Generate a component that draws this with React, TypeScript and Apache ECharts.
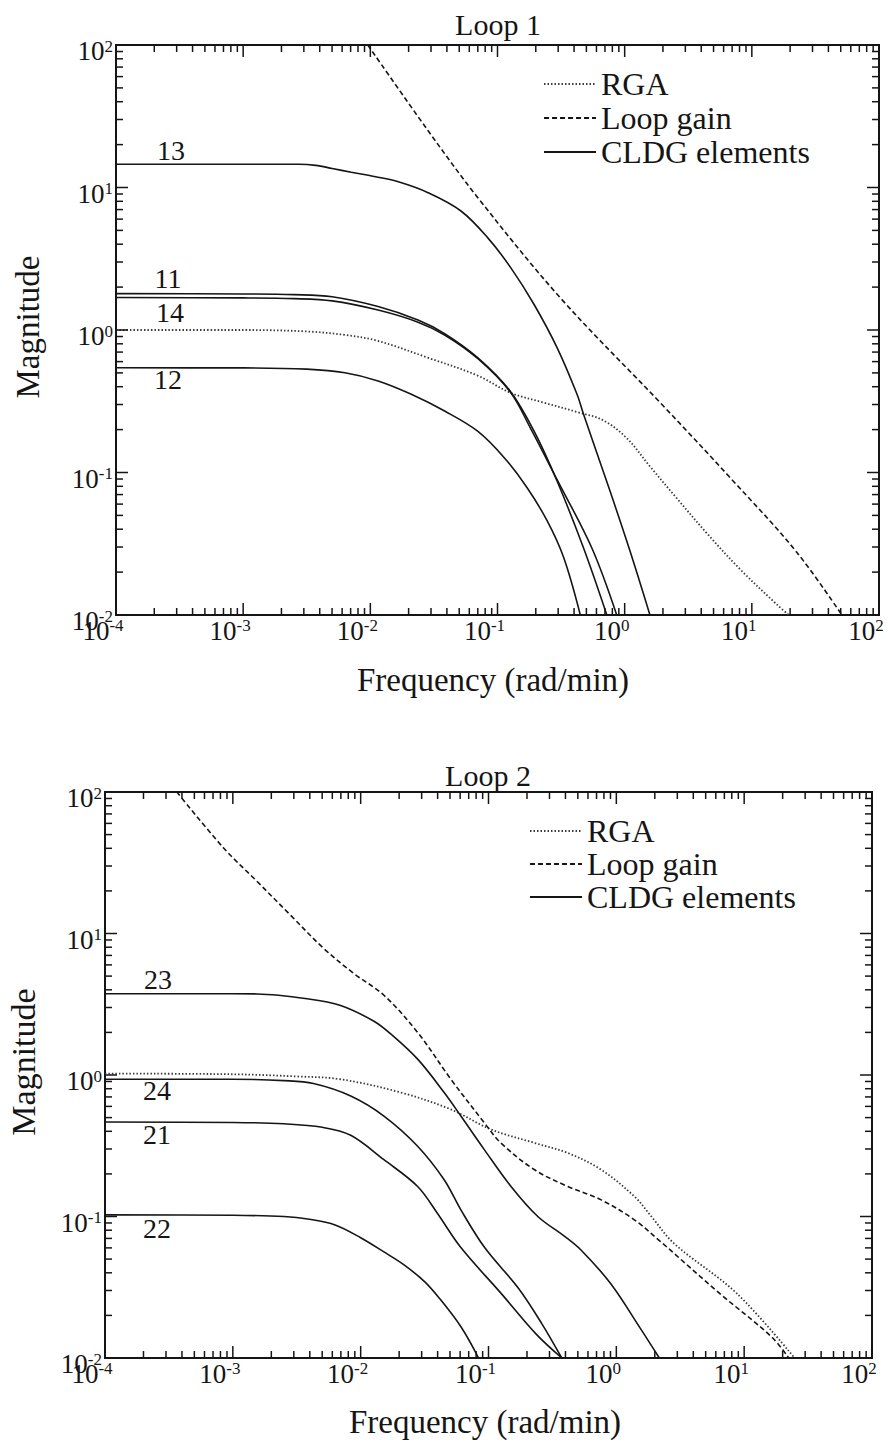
import React, { useEffect, useRef } from 'react';
import * as echarts from 'echarts';

type Pt = [number, number];

// ---------- tick labels / axis ranges ----------
const xDecades = [-4, -3, -2, -1, 0, 1, 2];
const yDecades = [-2, -1, 0, 1, 2];
const minorMultipliers = [2, 3, 4, 5, 6, 7, 8, 9];
const X_MIN = 1e-4;
const X_MAX = 1e2;
const Y_MIN = 1e-2;
const Y_MAX = 1e2;

const legendNames = ['RGA', 'Loop gain', 'CLDG elements'];

// ---------- Loop 1 data: [frequency rad/min, magnitude] ----------
const loop1RGA: Pt[] = [
  [1e-4, 1.0], [1e-3, 1.0], [3.16e-3, 0.977], [6.31e-3, 0.923], [0.0115, 0.838],
  [0.0282, 0.64], [0.0698, 0.479], [0.126, 0.363], [0.232, 0.309], [0.422, 0.266],
  [0.681, 0.232], [1.04, 0.174], [1.585, 0.11], [2.51, 0.0676], [4.57, 0.0363],
  [8.32, 0.0204], [15.5, 0.012], [19.5, 0.01],
];
const loop1LoopGain: Pt[] = [
  [0.00955, 100], [0.0284, 25.1], [0.0698, 8.51], [0.316, 1.66],
  [2.0, 0.295], [6.65, 0.0933], [22.1, 0.0282], [51.1, 0.01],
];
const loop1C13: Pt[] = [
  [1e-4, 14.55], [1e-3, 14.55], [2.74e-3, 14.55], [3.72e-3, 14.3], [5.01e-3, 13.6],
  [7.08e-3, 12.8], [0.011, 11.9], [0.0166, 10.96], [0.0284, 9.2], [0.0516, 6.84],
  [0.0836, 4.45], [0.127, 2.74], [0.194, 1.51], [0.294, 0.752], [0.422, 0.354],
  [0.475, 0.256], [0.767, 0.0741], [1.1, 0.0282], [1.58, 0.01],
];
const loop1C11: Pt[] = [
  [1e-4, 1.8], [1e-3, 1.79], [2.51e-3, 1.77], [5.01e-3, 1.71], [0.0115, 1.46],
  [0.0237, 1.175], [0.0384, 0.944], [0.0698, 0.64], [0.126, 0.372], [0.194, 0.195],
  [0.294, 0.0871], [0.475, 0.0295], [0.724, 0.01],
];
const loop1C14: Pt[] = [
  [1e-4, 1.69], [1e-3, 1.68], [2.51e-3, 1.66], [5.01e-3, 1.6], [0.0115, 1.38],
  [0.0237, 1.135], [0.0384, 0.923], [0.0698, 0.631], [0.126, 0.367], [0.182, 0.204],
  [0.294, 0.0891], [0.552, 0.0295], [0.866, 0.01],
];
const loop1C12: Pt[] = [
  [1e-4, 0.543], [1e-3, 0.542], [3.16e-3, 0.531], [6.31e-3, 0.501], [0.0115, 0.439],
  [0.021, 0.354], [0.0384, 0.27], [0.0698, 0.195], [0.113, 0.127], [0.171, 0.0782],
  [0.246, 0.0457], [0.332, 0.0252], [0.448, 0.01],
];

// ---------- Loop 2 data ----------
const loop2RGA: Pt[] = [
  [1e-4, 1.023], [1e-3, 1.012], [3.16e-3, 0.977], [6.97e-3, 0.933], [0.0206, 0.752],
  [0.0508, 0.571], [0.105, 0.412], [0.229, 0.331], [0.417, 0.281], [0.762, 0.214],
  [1.39, 0.138], [1.88, 0.1], [2.82, 0.0646], [8.79, 0.0285], [24.8, 0.01],
];
const loop2LoopGain: Pt[] = [
  [3.65e-4, 100], [8.47e-4, 40.2], [1.55e-3, 23.3], [2.82e-3, 13.5], [5.15e-3, 7.83],
  [8.91e-3, 5.19], [0.0152, 3.66], [0.0279, 2.0], [0.0508, 0.933], [0.0927, 0.46],
  [0.125, 0.331], [0.229, 0.214], [0.417, 0.163], [0.762, 0.131], [1.39, 0.0944],
  [2.17, 0.0676], [6.46, 0.0285], [16.4, 0.0141], [22.3, 0.01],
];
const loop2C23: Pt[] = [
  [1e-4, 3.75], [1e-3, 3.75], [1.55e-3, 3.74], [3.81e-3, 3.46], [6.97e-3, 3.1],
  [0.0127, 2.4], [0.0172, 1.95], [0.0279, 1.294], [0.045, 0.752], [0.0608, 0.513],
  [0.0927, 0.297], [0.15, 0.163], [0.243, 0.1], [0.394, 0.0724], [0.531, 0.0578],
  [0.902, 0.0336], [1.514, 0.0166], [2.17, 0.01],
];
const loop2C24: Pt[] = [
  [1e-4, 0.933], [1e-3, 0.933], [2.51e-3, 0.912], [4.27e-3, 0.871], [8.36e-3, 0.711],
  [0.0152, 0.513], [0.0279, 0.314], [0.045, 0.182], [0.0608, 0.1114], [0.0933, 0.0603],
  [0.172, 0.031], [0.261, 0.0175], [0.374, 0.01],
];
const loop2C21: Pt[] = [
  [1e-4, 0.465], [1e-3, 0.462], [2.51e-3, 0.452], [5.01e-3, 0.427], [8.36e-3, 0.375],
  [0.0152, 0.252], [0.0279, 0.163], [0.0398, 0.1054], [0.0608, 0.0603], [0.126, 0.0285],
  [0.235, 0.0148], [0.374, 0.01],
];
const loop2C22: Pt[] = [
  [1e-4, 0.1026], [1e-3, 0.102], [2.51e-3, 0.1], [3.98e-3, 0.0955], [6.31e-3, 0.0871],
  [0.01, 0.0708], [0.0152, 0.0562], [0.0217, 0.0457], [0.0316, 0.0347], [0.0405, 0.027],
  [0.0612, 0.0165], [0.0836, 0.01],
];

const FONT = "'Liberation Serif', 'Times New Roman', serif";
const INK = '#151515';

function buildTicks(decades: number[]) {
  const out: { v: number; major: number }[] = [];
  decades.forEach((d, i) => {
    out.push({ v: Math.pow(10, d), major: 1 });
    if (i < decades.length - 1) {
      minorMultipliers.forEach((m) => out.push({ v: m * Math.pow(10, d), major: 0 }));
    }
  });
  return out;
}

function tickSeries(gi: number, axis: 'x' | 'y') {
  const ticks = buildTicks(axis === 'x' ? xDecades : yDecades);
  return {
    type: 'custom',
    xAxisIndex: gi,
    yAxisIndex: gi,
    silent: true,
    clip: false,
    z: 6,
    data: ticks.map((t) => (axis === 'x' ? [t.v, Y_MIN, t.major] : [X_MIN, t.v, t.major])),
    renderItem: (_p: any, api: any) => {
      const major = api.value(2) === 1;
      const len = major ? 12 : 7;
      const st = { stroke: INK, lineWidth: 1.5 };
      if (axis === 'x') {
        const v = api.value(0);
        const b = api.coord([v, Y_MIN]);
        const t = api.coord([v, Y_MAX]);
        return {
          type: 'group',
          children: [
            { type: 'line', shape: { x1: b[0], y1: b[1], x2: b[0], y2: b[1] - len }, style: st },
            { type: 'line', shape: { x1: t[0], y1: t[1], x2: t[0], y2: t[1] + len }, style: st },
          ],
        };
      }
      const v = api.value(1);
      const l = api.coord([X_MIN, v]);
      const r = api.coord([X_MAX, v]);
      return {
        type: 'group',
        children: [
          { type: 'line', shape: { x1: l[0], y1: l[1], x2: l[0] + len, y2: l[1] }, style: st },
          { type: 'line', shape: { x1: r[0], y1: r[1], x2: r[0] - len, y2: r[1] }, style: st },
        ],
      };
    },
  };
}

const rich = {
  a: { fontSize: 27, fontFamily: FONT, color: INK },
  b: { fontSize: 17, fontFamily: FONT, color: INK, verticalAlign: 'top' },
};
const fmt = (v: number) => `{a|10}{b|${Math.round(Math.log10(v))}}`;

function xAxis(gi: number) {
  return {
    gridIndex: gi,
    type: 'log',
    logBase: 10,
    min: X_MIN,
    max: X_MAX,
    splitNumber: 6,
    axisLine: { show: true, lineStyle: { color: INK, width: 2 } },
    axisTick: { show: false },
    splitLine: { show: false },
    axisLabel: { formatter: fmt, rich, margin: 2, padding: [0, 26, 0, 0], hideOverlap: false, showMinLabel: true, showMaxLabel: true },
  };
}
function yAxis(gi: number) {
  return {
    gridIndex: gi,
    type: 'log',
    logBase: 10,
    min: Y_MIN,
    max: Y_MAX,
    splitNumber: 4,
    axisLine: { show: true, lineStyle: { color: INK, width: 2 } },
    axisTick: { show: false },
    splitLine: { show: false },
    axisLabel: { formatter: fmt, rich, margin: 3, padding: [12, 0, 0, 0], hideOverlap: false, showMinLabel: true, showMaxLabel: true },
  };
}

function lineSeries(gi: number, name: string, data: Pt[], kind: 'dot' | 'dash' | 'solid') {
  const lineStyle =
    kind === 'dot'
      ? { type: [1.5, 2], width: 1.8, color: '#3a3a3a' }
      : kind === 'dash'
      ? { type: [5, 3], width: 1.6, color: INK }
      : { type: 'solid', width: 1.6, color: INK };
  return {
    type: 'line',
    name,
    xAxisIndex: gi,
    yAxisIndex: gi,
    data,
    showSymbol: false,
    symbol: 'none',
    smooth: 0.35,
    lineStyle,
    itemStyle: { color: lineStyle.color },
    z: 3,
  };
}

function text(t: string, x: number, y: number, size: number, extra: any = {}) {
  return {
    type: 'text',
    x,
    y,
    style: { text: t, fontFamily: FONT, fontSize: size, fill: INK, align: 'center', verticalAlign: 'middle' },
    ...extra,
  };
}

export default function App() {
  const ref = useRef<HTMLDivElement>(null);
  useEffect(() => {
    if (!ref.current) return;
    const chart = echarts.init(ref.current, undefined, { renderer: 'svg' });
    const option: any = {
      animation: false,
      backgroundColor: '#ffffff',
      grid: [
        { left: 116, top: 45, width: 763, height: 570, show: true, borderColor: INK, borderWidth: 2 },
        { left: 105, top: 792, width: 767, height: 566, show: true, borderColor: INK, borderWidth: 2 },
      ],
      xAxis: [xAxis(0), xAxis(1)],
      yAxis: [yAxis(0), yAxis(1)],
      legend: [0, 1].map((gi) => ({
        data: legendNames,
        orient: 'vertical',
        left: gi === 0 ? 538 : 524,
        top: gi === 0 ? 63 : 810,
        itemWidth: 52,
        itemHeight: 14,
        itemGap: gi === 0 ? 2 : 1,
        selectedMode: false,
        itemStyle: { color: 'transparent', borderColor: 'transparent', borderWidth: 0, opacity: 0 },
        textStyle: { fontFamily: FONT, fontSize: 32, color: INK, lineHeight: 31 },
      })),
      series: [
        lineSeries(0, 'RGA', loop1RGA, 'dot'),
        lineSeries(0, 'Loop gain', loop1LoopGain, 'dash'),
        lineSeries(0, 'CLDG elements', loop1C13, 'solid'),
        lineSeries(0, 'CLDG elements', loop1C11, 'solid'),
        lineSeries(0, 'CLDG elements', loop1C14, 'solid'),
        lineSeries(0, 'CLDG elements', loop1C12, 'solid'),
        lineSeries(1, 'RGA', loop2RGA, 'dot'),
        lineSeries(1, 'Loop gain', loop2LoopGain, 'dash'),
        lineSeries(1, 'CLDG elements', loop2C23, 'solid'),
        lineSeries(1, 'CLDG elements', loop2C24, 'solid'),
        lineSeries(1, 'CLDG elements', loop2C21, 'solid'),
        lineSeries(1, 'CLDG elements', loop2C22, 'solid'),
        tickSeries(0, 'x'),
        tickSeries(0, 'y'),
        tickSeries(1, 'x'),
        tickSeries(1, 'y'),
      ],
      graphic: [
        text('Loop 1', 498, 24, 30),
        text('Loop 2', 488, 775, 30),
        text('Frequency (rad/min)', 493, 680, 33),
        text('Frequency (rad/min)', 485, 1422, 33),
        text('Magnitude', 28, 327, 33, { rotation: Math.PI / 2 }),
        text('Magnitude', 23, 1062, 34, { rotation: Math.PI / 2 }),
        text('13', 171, 150, 28),
        text('11', 168, 278, 28),
        text('14', 170, 312, 28),
        text('12', 168, 379, 28),
        text('23', 158, 979, 28),
        text('24', 157, 1090, 28),
        text('21', 157, 1134, 28),
        text('22', 157, 1228, 28),
      ],
    };
    chart.setOption(option);
    return () => chart.dispose();
  }, []);
  return (
    <div
      ref={ref}
      style={{ position: 'absolute', left: 0, top: 0, width: 893, height: 1442, background: '#fff' }}
    />
  );
}
